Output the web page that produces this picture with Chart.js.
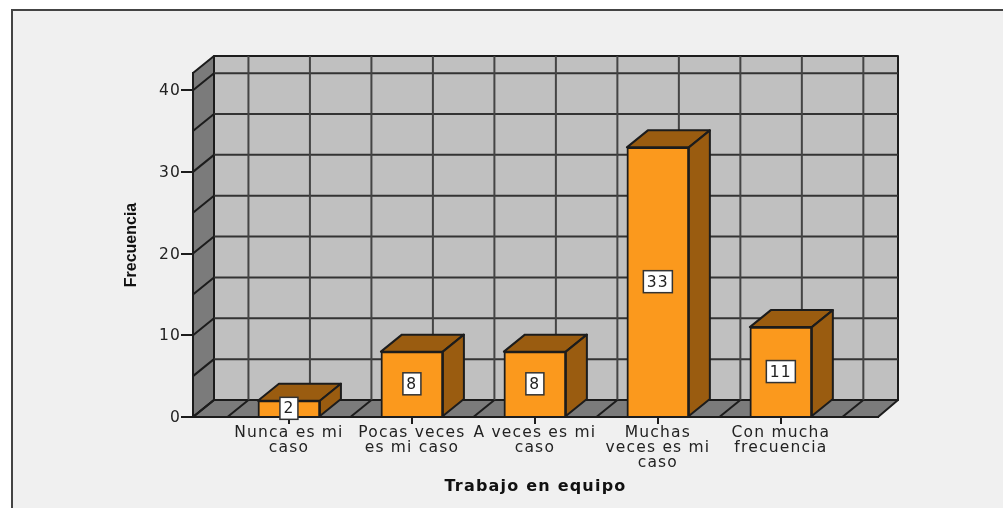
<!DOCTYPE html>
<html>
<head>
<meta charset="utf-8">
<title>Trabajo en equipo</title>
<script src="https://cdn.jsdelivr.net/npm/chart.js@4/dist/chart.umd.js"></script>
<style>
    html, body { margin: 0; padding: 0; background: #fff; overflow: hidden; }
    #frame { position: absolute; left: 11px; top: 9px; width: 992px; height: 499px; background: #f0f0f0; border-left: 2px solid #444; border-top: 2px solid #444; box-sizing: border-box; }
    #chart { position: absolute; left: 0; top: 0; }
</style>
</head>
<body>
<div id="frame"></div>
<canvas id="chart" width="1003" height="508"></canvas>
<script>
const categories = [
    ['Nunca es mi', 'caso'],
    ['Pocas veces', 'es mi caso'],
    ['A veces es mi', 'caso'],
    ['Muchas', 'veces es mi', 'caso'],
    ['Con mucha', 'frecuencia']
];
const values = [2, 8, 8, 33, 11];
const yTicks = [0, 10, 20, 30, 40];
const yGridLines = [0, 5, 10, 15, 20, 25, 30, 35, 40];
const xGridLines = [-0.5, 0, 0.5, 1, 1.5, 2, 2.5, 3, 3.5, 4, 4.5];

const DEPTH_X = 21;
const DEPTH_Y = 17;
const LINE = '#1c1c1c';
const SPACING = '1.2px';

function poly(ctx, pts, fill) {
    ctx.beginPath();
    pts.forEach((p, i) => i ? ctx.lineTo(p[0], p[1]) : ctx.moveTo(p[0], p[1]));
    ctx.closePath();
    ctx.fillStyle = fill;
    ctx.fill();
    ctx.strokeStyle = LINE;
    ctx.lineWidth = 2;
    ctx.stroke();
}

function seg(ctx, x1, y1, x2, y2, color) {
    ctx.beginPath();
    ctx.moveTo(x1, y1);
    ctx.lineTo(x2, y2);
    ctx.strokeStyle = color;
    ctx.stroke();
}

// the 3D box behind the bars, and the top and side faces of each bar
const box3d = {
    id: 'box3d',
    beforeDraw(chart) {
        // the reference text is stretched wide, no installed font is that wide
        chart.ctx.letterSpacing = SPACING;
    },
    beforeDatasetsDraw(chart) {
        const { ctx, chartArea: a, scales: { x, y } } = chart;
        ctx.save();
        ctx.lineJoin = 'round';
        // back wall, side wall, floor
        poly(ctx, [[a.left + DEPTH_X, a.top - DEPTH_Y], [a.right + DEPTH_X - 1, a.top - DEPTH_Y], [a.right + DEPTH_X - 1, a.bottom - DEPTH_Y], [a.left + DEPTH_X, a.bottom - DEPTH_Y]], '#c0c0c0');
        poly(ctx, [[a.left, a.top], [a.left + DEPTH_X, a.top - DEPTH_Y], [a.left + DEPTH_X, a.bottom - DEPTH_Y], [a.left, a.bottom]], '#7b7b7b');
        poly(ctx, [[a.left, a.bottom], [a.left + DEPTH_X, a.bottom - DEPTH_Y], [a.right + DEPTH_X - 1, a.bottom - DEPTH_Y], [a.right, a.bottom]], '#7b7b7b');

        ctx.lineWidth = 2;
        yGridLines.forEach(v => {
            const py = y.getPixelForValue(v);
            if (v > 0) seg(ctx, a.left + DEPTH_X, py - DEPTH_Y, a.right + DEPTH_X - 1, py - DEPTH_Y, '#333');
            seg(ctx, a.left, py, a.left + DEPTH_X, py - DEPTH_Y, LINE);
        });
        xGridLines.forEach(v => {
            const px = x.getPixelForValue(v);
            seg(ctx, px + DEPTH_X, a.top - DEPTH_Y, px + DEPTH_X, a.bottom - DEPTH_Y, '#444');
            seg(ctx, px, a.bottom, px + DEPTH_X, a.bottom - DEPTH_Y, LINE);
        });

        // bar faces that go back into the box
        chart.getDatasetMeta(0).data.forEach(bar => {
            const p = bar.getProps(['x', 'y', 'base', 'width'], true);
            const l = p.x - p.width / 2;
            const r = p.x + p.width / 2;
            poly(ctx, [[l, p.y], [l + DEPTH_X, p.y - DEPTH_Y], [r + DEPTH_X, p.y - DEPTH_Y], [r, p.y]], '#9a5c10');
            poly(ctx, [[r, p.y], [r + DEPTH_X, p.y - DEPTH_Y], [r + DEPTH_X, p.base - DEPTH_Y], [r, p.base]], '#9a5c10');
        });
        ctx.restore();
    },
    afterDatasetsDraw(chart) {
        const { ctx } = chart;
        ctx.save();
        ctx.font = '15.5px "DejaVu Sans"';
        ctx.textAlign = 'center';
        ctx.textBaseline = 'middle';
        chart.getDatasetMeta(0).data.forEach((bar, i) => {
            const p = bar.getProps(['x', 'y', 'base'], true);
            const text = String(values[i]);
            const w = text.length > 1 ? 29 : 18;
            const my = (p.y + p.base) / 2;
            ctx.fillStyle = '#fff';
            ctx.fillRect(p.x - w / 2, my - 11, w, 22);
            ctx.strokeStyle = '#333';
            ctx.lineWidth = 1.5;
            ctx.strokeRect(p.x - w / 2, my - 11, w, 22);
            ctx.fillStyle = '#222';
            ctx.fillText(text, p.x, my + 1);
        });
        ctx.restore();
    }
};

new Chart(document.getElementById('chart'), {
    type: 'bar',
    data: {
        datasets: [{
            data: values.map((v, i) => ({ x: i, y: v })),
            backgroundColor: '#fb991d',
            borderColor: LINE,
            borderWidth: 2,
            barThickness: 62
        }]
    },
    plugins: [box3d],
    options: {
        responsive: false,
        animation: false,
        layout: { padding: { left: 122, right: 125, top: 73, bottom: 0 } },
        plugins: { legend: { display: false }, tooltip: { enabled: false } },
        scales: {
            x: {
                type: 'linear',
                offset: false,
                min: -0.78,
                max: 4.79,
                afterBuildTicks: scale => { scale.ticks = categories.map((c, i) => ({ value: i })); },
                afterFit: scale => { scale.height = 91; },
                grid: { offset: false, drawOnChartArea: false, tickLength: 7, color: LINE, lineWidth: 2 },
                border: { color: LINE, width: 2 },
                ticks: {
                    callback: (value) => categories[value],
                    color: '#222',
                    font: { family: 'DejaVu Sans', size: 15.5, lineHeight: 0.97 },
                    padding: 1,
                    maxRotation: 0,
                    autoSkip: false
                },
                title: {
                    display: true,
                    text: 'Trabajo en equipo',
                    color: '#111',
                    font: { family: 'DejaVu Sans', size: 16, weight: 'bold' },
                    padding: { top: 0, bottom: 12 }
                }
            },
            y: {
                min: 0,
                max: 42.1,
                afterBuildTicks: scale => { scale.ticks = yTicks.map(v => ({ value: v })); },
                afterFit: scale => { scale.width = 71; },
                afterUpdate: scale => {
                    // Frecuencia is narrow in the reference, so no extra spacing on it
                    const drawTitle = scale.drawTitle;
                    scale.drawTitle = function () {
                        this.ctx.letterSpacing = '0px';
                        drawTitle.call(this);
                        this.ctx.letterSpacing = SPACING;
                    };
                },
                grid: { drawOnChartArea: false, tickLength: 12, color: LINE, lineWidth: 2 },
                border: { color: LINE, width: 2 },
                ticks: {
                    color: '#222',
                    font: { family: 'DejaVu Sans', size: 15.5 },
                    padding: 0,
                    labelOffset: 1
                },
                title: {
                    display: true,
                    text: 'Frecuencia',
                    color: '#111',
                    font: { family: 'Liberation Sans', size: 16, weight: 'bold' },
                    padding: 0
                }
            }
        }
    }
});
</script>
</body>
</html>
